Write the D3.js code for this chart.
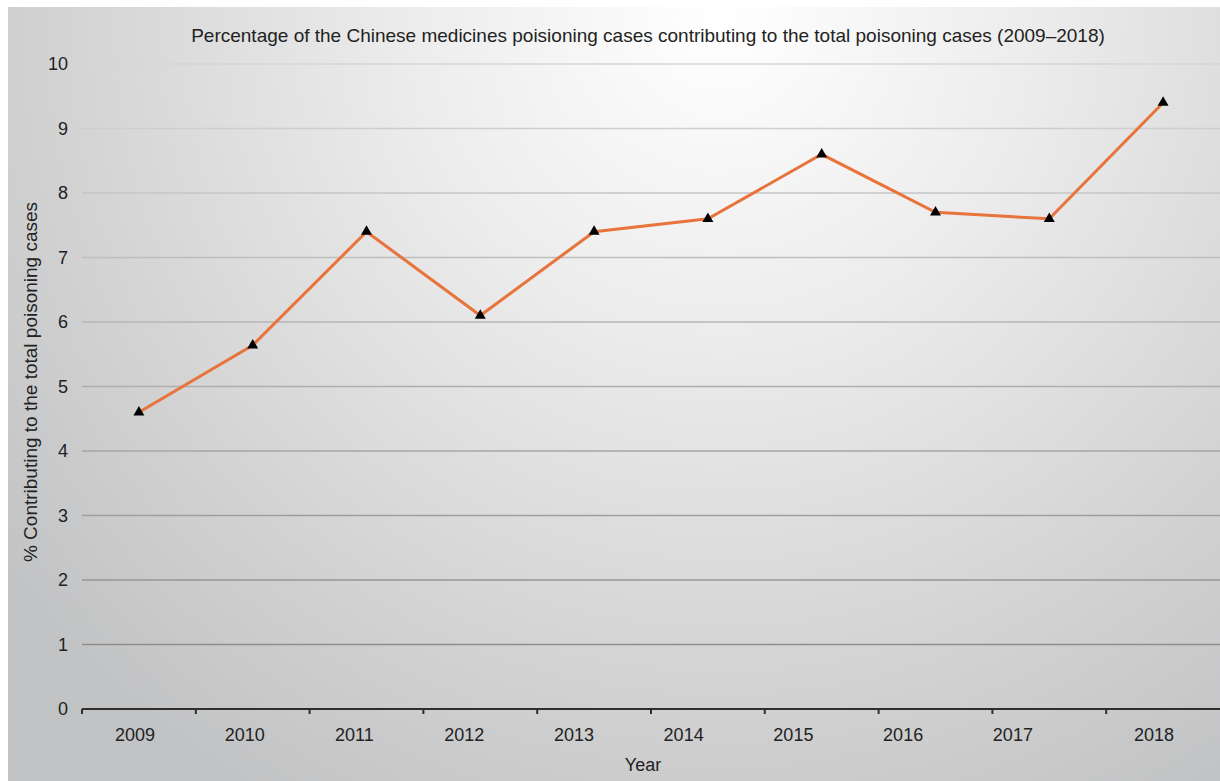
<!DOCTYPE html>
<html>
<head>
<meta charset="utf-8">
<script src="https://cdn.jsdelivr.net/npm/d3@7"></script>
<style>
  html, body { margin: 0; padding: 0; background: #fff; }
  svg { display: block; font-family: "Liberation Sans", Arial, Helvetica, sans-serif; }
</style>
</head>
<body>
<div id="chart"></div>
<script>
// ── Data ──
const years = ['2009', '2010', '2011', '2012', '2013', '2014', '2015', '2016', '2017', '2018'];
const percentages = [4.6, 5.64, 7.4, 6.1, 7.4, 7.6, 8.6, 7.7, 7.6, 9.4];
const yTicks = [0, 1, 2, 3, 4, 5, 6, 7, 8, 9, 10];

const title = 'Percentage of the Chinese medicines poisioning cases contributing to the total poisoning cases (2009\u20132018)';
const yLabel = '% Contributing to the total poisoning cases';
const xLabel = 'Year';

const W = 1220, H = 781;
const margin = { top: 64, right: 0, bottom: 72, left: 82 };
const width = W - margin.left - margin.right;
const height = H - margin.top - margin.bottom;

const svg = d3.select('#chart')
  .append('svg')
  .attr('width', W)
  .attr('height', H);

// Background gradient panel
const defs = svg.append('defs');
const grad = defs.append('radialGradient')
  .attr('id', 'bg')
  .attr('gradientUnits', 'userSpaceOnUse')
  .attr('cx', 720).attr('cy', 20)
  .attr('r', 900);
grad.append('stop').attr('offset', '0%').attr('stop-color', '#ffffff');
grad.append('stop').attr('offset', '35%').attr('stop-color', '#ececec');
grad.append('stop').attr('offset', '75%').attr('stop-color', '#d2d2d3');
grad.append('stop').attr('offset', '100%').attr('stop-color', '#c2c3c4');

svg.append('rect')
  .attr('x', 8).attr('y', 7)
  .attr('width', W - 8).attr('height', H - 7)
  .attr('fill', 'url(#bg)');

const g = svg.append('g')
  .attr('transform', `translate(${margin.left},${margin.top})`);

// Scales
const xScale = d3.scaleBand()
  .domain(years)
  .range([0, width])
  .padding(0);

const yScale = d3.scaleLinear()
  .domain([0, 10])
  .range([height, 0]);

const gridColor = d3.scaleLinear()
  .domain([10, 1])
  .range(['#d6d6d6', '#8e8e8e']);

// Year labels in the source sit slightly left of the band centres,
// drifting further left until the last one
const labelX = d3.scalePoint()
  .domain(years.slice(0, -1))
  .range([xScale.bandwidth() * 0.465, xScale.bandwidth() * 8.18]);
const yearLabelX = d => labelX(d) !== undefined
  ? labelX(d)
  : xScale(d) + xScale.bandwidth() / 2 - 9;

// Grid
g.append('g')
  .selectAll('line')
  .data(yTicks.filter(d => d > 0))
  .enter()
  .append('line')
  .attr('x1', 0)
  .attr('x2', width)
  .attr('y1', d => yScale(d))
  .attr('y2', d => yScale(d))
  .attr('stroke', d => gridColor(d))
  .attr('stroke-width', 1.5);

// Y tick labels
g.append('g')
  .selectAll('text')
  .data(yTicks)
  .enter()
  .append('text')
  .attr('x', -14)
  .attr('y', d => yScale(d))
  .attr('dy', '0.36em')
  .attr('text-anchor', 'end')
  .attr('font-size', '18px')
  .attr('fill', '#222')
  .text(d => d);

// X axis
const xAxis = g.append('g')
  .attr('transform', `translate(0,${height})`);

xAxis.append('line')
  .attr('x1', 0).attr('x2', width)
  .attr('stroke', '#2e2e2e')
  .attr('stroke-width', 2);

xAxis.selectAll('.tick')
  .data(years)
  .enter()
  .append('line')
  .attr('x1', d => xScale(d))
  .attr('x2', d => xScale(d))
  .attr('y1', 0)
  .attr('y2', 5)
  .attr('stroke', '#2e2e2e')
  .attr('stroke-width', 2);

xAxis.selectAll('text')
  .data(years)
  .enter()
  .append('text')
  .attr('x', d => yearLabelX(d))
  .attr('y', 32)
  .attr('text-anchor', 'middle')
  .attr('font-size', '18px')
  .attr('fill', '#222')
  .text(d => d);

// Line
const line = d3.line()
  .x((d, i) => xScale(years[i]) + xScale.bandwidth() / 2)
  .y(d => yScale(d));

g.append('path')
  .datum(percentages)
  .attr('fill', 'none')
  .attr('stroke', '#e8743b')
  .attr('stroke-width', 3)
  .attr('d', line);

// Triangle markers
const tri = d3.symbol().type(d3.symbolTriangle).size(52);
g.selectAll('.marker')
  .data(percentages)
  .enter()
  .append('path')
  .attr('class', 'marker')
  .attr('transform', (d, i) => `translate(${xScale(years[i]) + xScale.bandwidth() / 2},${yScale(d)})`)
  .attr('d', tri)
  .attr('fill', '#000');

// Title
svg.append('text')
  .attr('x', 648)
  .attr('y', 42)
  .attr('text-anchor', 'middle')
  .attr('font-size', '19px')
  .attr('fill', '#222')
  .text(title);

// Y label
svg.append('text')
  .attr('transform', 'translate(37,382) rotate(-90)')
  .attr('text-anchor', 'middle')
  .attr('font-size', '19px')
  .attr('fill', '#222')
  .text(yLabel);

// X label
svg.append('text')
  .attr('x', 643)
  .attr('y', 771)
  .attr('text-anchor', 'middle')
  .attr('font-size', '18px')
  .attr('fill', '#222')
  .text(xLabel);
</script>
</body>
</html>
